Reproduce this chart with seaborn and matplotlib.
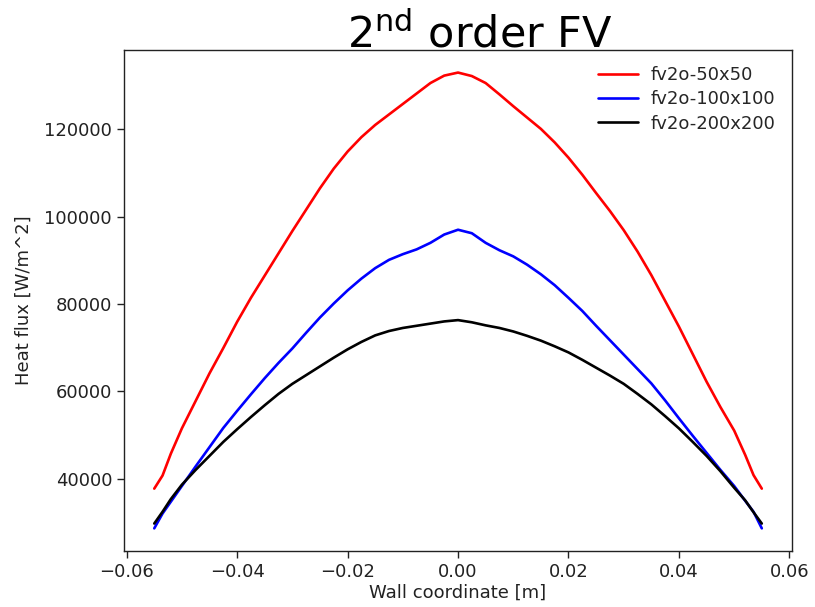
import numpy as np
import pandas as pd
import matplotlib
matplotlib.use("Agg")
import matplotlib.pyplot as plt
import seaborn as sns

# Wall coordinate samples [m]
wall_x = [-0.055, -0.0535, -0.052, -0.050, -0.0475, -0.045, -0.0425, -0.040,
          -0.0375, -0.035, -0.0325, -0.030, -0.0275, -0.025, -0.0225, -0.020,
          -0.0175, -0.015, -0.0125, -0.010, -0.0075, -0.005, -0.0025, 0.0,
          0.0025, 0.005, 0.0075, 0.010, 0.0125, 0.015, 0.0175, 0.020,
          0.0225, 0.025, 0.0275, 0.030, 0.0325, 0.035, 0.0375, 0.040,
          0.0425, 0.045, 0.0475, 0.050, 0.052, 0.0535, 0.055]

# Wall heat flux [W/m^2] for each mesh
flux_50 = [37700, 40700, 45700, 51500, 57800, 64100, 69900, 75900,
           81400, 86500, 91600, 96700, 101600, 106500, 111000, 114900,
           118200, 121000, 123400, 125800, 128200, 130600, 132300, 133000,
           132200, 130600, 128000, 125300, 122700, 120100, 117000, 113500,
           109600, 105400, 101300, 96900, 92000, 86600, 80700, 74800,
           68500, 62200, 56400, 51000, 45400, 40800, 37700]

flux_100 = [28600, 32000, 34700, 38300, 42800, 47200, 51600, 55500,
            59300, 63000, 66500, 69800, 73400, 76900, 80100, 83100,
            85800, 88200, 90100, 91400, 92500, 94000, 95900, 97000,
            96200, 94000, 92300, 90900, 89000, 86800, 84300, 81400,
            78400, 75000, 71700, 68400, 65100, 61800, 57900, 53800,
            49800, 45900, 42000, 38300, 34900, 32400, 28600]

flux_200 = [29700, 32400, 35300, 38600, 42000, 45200, 48400, 51300,
            54100, 56800, 59400, 61700, 63700, 65700, 67700, 69600,
            71300, 72800, 73800, 74500, 75000, 75500, 76000, 76300,
            75800, 75100, 74500, 73700, 72700, 71600, 70300, 68900,
            67200, 65400, 63600, 61700, 59400, 57000, 54300, 51500,
            48400, 45200, 41700, 37900, 35000, 32300, 29700]

series_names = ["fv2o-50x50", "fv2o-100x100", "fv2o-200x200"]
series_colors = ["#ff0000", "#0000ff", "#000000"]

df = pd.concat([
    pd.DataFrame({"x": wall_x, "flux": vals, "mesh": name})
    for name, vals in zip(series_names, [flux_50, flux_100, flux_200])
], ignore_index=True)

sns.set_theme(style="ticks", context="notebook")
plt.rcParams.update({
    "font.family": ["DejaVu Sans"],
    "mathtext.fontset": "dejavusans",
    "axes.edgecolor": "#222222",
    "axes.linewidth": 1.0,
    "xtick.color": "#222222",
    "ytick.color": "#222222",
    "xtick.labelcolor": "#222222",
    "ytick.labelcolor": "#222222",
    "xtick.major.size": 5,
    "ytick.major.size": 5,
    "xtick.major.width": 1.0,
    "ytick.major.width": 1.0,
    "axes.labelcolor": "#222222",
})

fig = plt.figure(figsize=(8.15, 6.07), dpi=100)
ax = fig.add_axes([0.152, 0.092, 0.820, 0.826])

sns.lineplot(data=df, x="x", y="flux", hue="mesh", hue_order=series_names,
             palette=dict(zip(series_names, series_colors)), linewidth=1.9,
             sort=False, estimator=None, ax=ax)

ax.set_xticks([-0.06, -0.04, -0.02, 0.0, 0.02, 0.04, 0.06])
ax.set_xticklabels(["\u22120.06", "\u22120.04", "\u22120.02", "0.00", "0.02", "0.04", "0.06"])
ax.set_yticks([40000, 60000, 80000, 100000, 120000])
ax.set_yticklabels(["40000", "60000", "80000", "100000", "120000"])
ax.tick_params(labelsize=13)
ax.set_xlabel("Wall coordinate [m]", fontsize=13, labelpad=2)
ax.set_ylabel("Heat flux [W/m^2]", fontsize=13, labelpad=8)

for s in ax.spines.values():
    s.set_visible(True)

ax.legend(frameon=False, loc="upper right", fontsize=13, labelspacing=0.35,
          handlelength=2.2, handletextpad=0.75)

fig.text(0.589, 1 - 47 / 607, r"2$^{\mathrm{nd}}$ order FV", fontsize=31,
         ha="center", va="baseline", color="black")

fig.savefig("out.png", dpi=100, facecolor="white")
